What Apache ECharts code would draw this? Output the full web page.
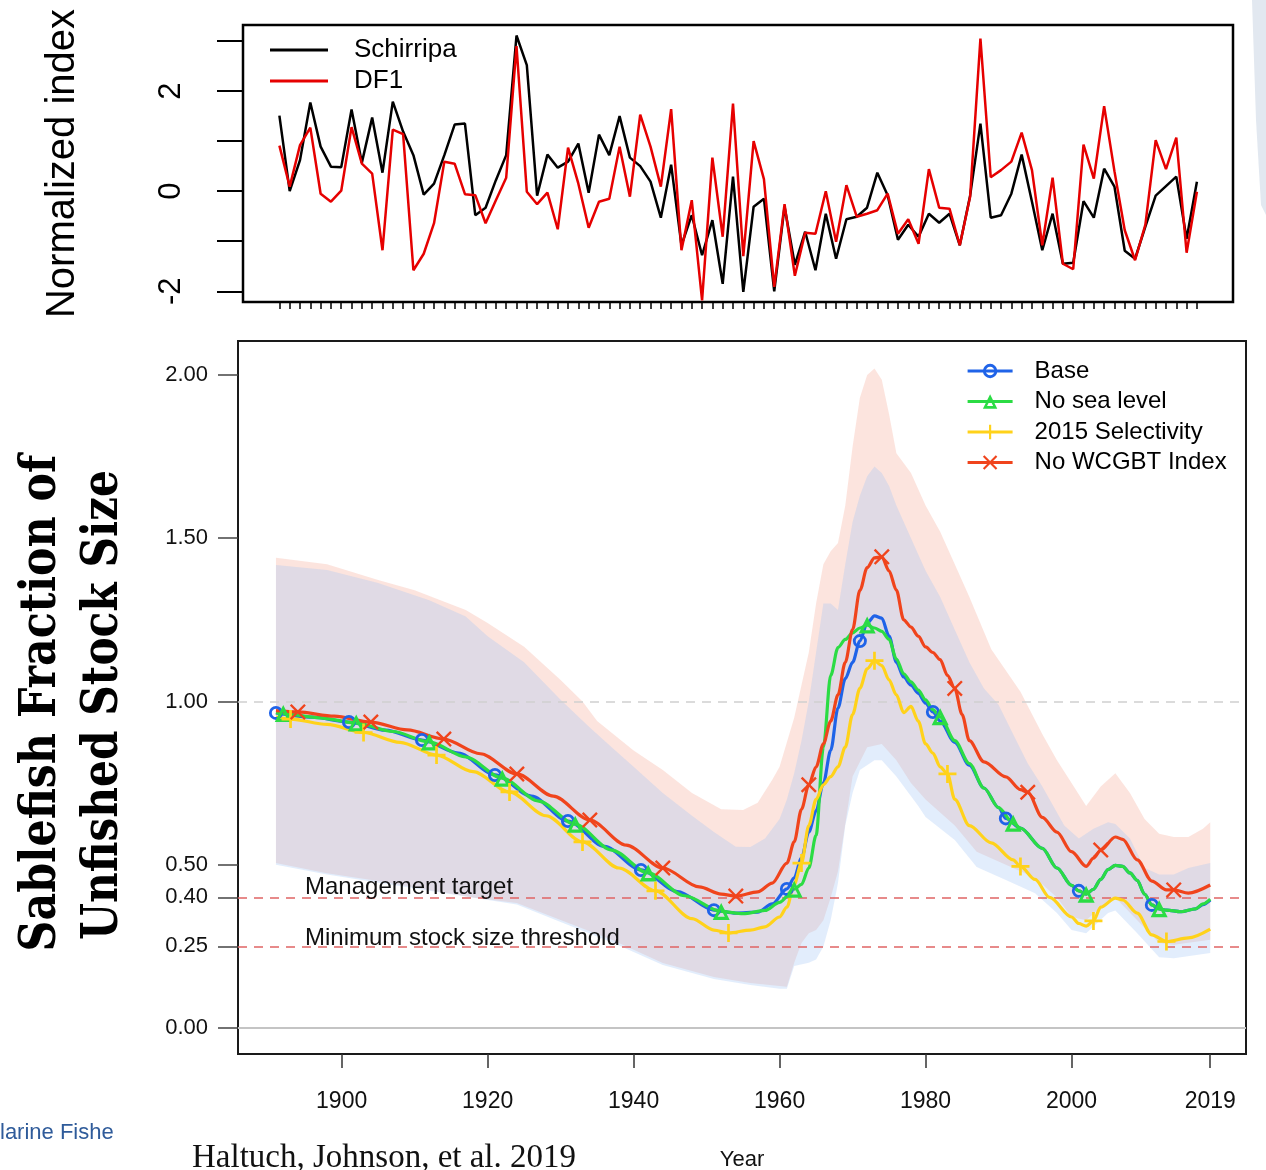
<!DOCTYPE html>
<html>
<head>
<meta charset="utf-8">
<title>Sablefish stock size and normalized indices</title>
<script src="https://cdn.jsdelivr.net/npm/echarts@6/dist/echarts.min.js"></script>
<style>
  html, body { margin: 0; padding: 0; background: #ffffff; }
  #chart { width: 1266px; height: 1170px; }
</style>
</head>
<body>
<div id="chart"></div>
<script>
// ---------- Upper panel: normalized annual indices (one value per year, plotted by position) ----------
const schirripa = [
  1.51, 0.00, 0.62, 1.77, 0.89, 0.49, 0.48, 1.63, 0.57, 1.47, 0.37, 1.79, 1.19, 0.72, -0.07, 0.15, 0.72, 1.33, 1.35, -0.48, -0.33, 0.22, 0.72,
  3.11, 2.52, -0.09, 0.73, 0.47, 0.59, 0.95, -0.03, 1.13, 0.72, 1.50, 0.67, 0.50, 0.19, -0.53, 0.53, -1.08, -0.48, -1.28, -0.58, -1.85, 0.29, -2.01,
  -0.31, -0.15, -2.00, -0.31, -1.47, -0.81, -1.58, -0.45, -1.35, -0.56, -0.51, -0.33, 0.37, -0.08, -0.97, -0.67, -0.91, -0.45, -0.63, -0.45, -1.08, -0.09, 1.35,
  -0.53, -0.48, -0.05, 0.73, -0.21, -1.18, -0.45, -1.45, -1.43, -0.20, -0.53, 0.45, 0.09, -1.19, -1.35, -0.71, -0.09, 0.10, 0.29, -0.95, 0.19
];
const df1 = [
  0.91, 0.09, 0.92, 1.27, -0.05, -0.21, 0.01, 1.28, 0.55, 0.35, -1.18, 1.23, 1.14, -1.58, -1.25, -0.64, 0.59, 0.55, -0.06, -0.08, -0.64, -0.18, 0.27,
  2.90, -0.01, -0.26, -0.03, -0.76, 0.87, 0.15, -0.73, -0.21, -0.15, 0.89, -0.11, 1.53, 0.89, 0.09, 1.64, -1.18, -0.18, -2.18, 0.67, -0.91, 1.75, -1.30,
  1.00, 0.24, -1.91, -0.26, -1.69, -0.83, -0.85, 0.00, -1.01, 0.12, -0.51, -0.45, -0.38, -0.05, -0.85, -0.56, -1.05, 0.44, -0.33, -0.35, -1.08, -0.11, 3.05,
  0.28, 0.42, 0.59, 1.17, 0.42, -1.08, 0.27, -1.45, -1.56, 0.93, 0.25, 1.70, 0.40, -0.78, -1.38, -0.67, 1.02, 0.44, 1.07, -1.23, -0.01
];
const upperYTicks = [-2, -1, 0, 1, 2, 3];
const upperYLabels = [-2, 0, 2];

// ---------- Lower panel: spawning output relative to unfished, by model run ----------
const lowerXTicks = [1900, 1920, 1940, 1960, 1980, 2000, 2019];
const lowerYTicks = [0, 0.25, 0.40, 0.50, 1.00, 1.50, 2.00];
const unfishedLevel = 1.0;
const managementTarget = 0.40;
const minStockThreshold = 0.25;

const baseRun = [
  [1891,0.965],[1896,0.952],[1901,0.937],[1906,0.912],[1911,0.882],[1916,0.842],[1921,0.775],[1926,0.71],
  [1931,0.634],[1936,0.556],[1941,0.484],[1946,0.418],[1951,0.361],[1954,0.352],[1957,0.355],[1959,0.38],
  [1961,0.426],[1962,0.46],[1963,0.52],[1964,0.60],[1965,0.665],[1966,0.75],[1967,0.85],[1968,0.98],
  [1969,1.07],[1970,1.12],[1971,1.185],[1972,1.24],[1973,1.262],[1974,1.255],[1975,1.20],[1976,1.12],
  [1977,1.075],[1978,1.05],[1979,1.025],[1980,0.995],[1981,0.968],[1982,0.94],[1984,0.875],[1986,0.805],
  [1988,0.735],[1990,0.675],[1991,0.642],[1993,0.612],[1996,0.55],[1998,0.49],[2000,0.437],[2001,0.42],
  [2002,0.41],[2003,0.425],[2004,0.455],[2005,0.485],[2006,0.498],[2007,0.495],[2008,0.475],[2009,0.452],
  [2010,0.41],[2011,0.377],[2012,0.365],[2013,0.361],[2015,0.356],[2017,0.365],[2018,0.378],[2019,0.392]
];
const noSeaLevelRun = [
  [1891,0.966],[1892,0.963],[1897,0.95],[1902,0.934],[1907,0.908],[1912,0.876],[1917,0.83],[1922,0.765],
  [1927,0.695],[1932,0.624],[1937,0.545],[1942,0.475],[1947,0.405],[1952,0.357],[1955,0.35],[1958,0.36],
  [1960,0.385],[1962,0.425],[1963,0.44],[1964,0.49],[1965,0.59],[1966,0.86],[1967,1.08],[1968,1.165],
  [1969,1.19],[1970,1.21],[1971,1.225],[1972,1.234],[1973,1.225],[1974,1.215],[1975,1.19],[1976,1.13],
  [1977,1.085],[1978,1.06],[1979,1.035],[1980,1.005],[1981,0.975],[1982,0.953],[1984,0.88],[1986,0.81],
  [1988,0.735],[1990,0.675],[1992,0.627],[1993,0.612],[1996,0.55],[1998,0.49],[2000,0.437],[2001,0.42],
  [2002,0.41],[2003,0.425],[2004,0.455],[2005,0.485],[2006,0.498],[2007,0.495],[2008,0.475],[2009,0.452],
  [2010,0.41],[2011,0.377],[2012,0.365],[2013,0.361],[2015,0.356],[2017,0.365],[2018,0.38],[2019,0.395]
];
const selectivity2015Run = [
  [1891,0.952],[1893,0.946],[1898,0.93],[1903,0.905],[1908,0.875],[1913,0.836],[1918,0.785],[1923,0.723],
  [1928,0.65],[1933,0.57],[1938,0.49],[1943,0.42],[1948,0.335],[1951,0.30],[1953,0.291],[1956,0.30],
  [1958,0.31],[1960,0.34],[1961,0.37],[1962,0.44],[1963,0.505],[1964,0.62],[1965,0.70],[1966,0.745],
  [1967,0.77],[1968,0.80],[1969,0.86],[1970,0.96],[1971,1.04],[1972,1.10],[1973,1.125],[1974,1.11],
  [1975,1.066],[1976,1.02],[1977,0.966],[1978,0.985],[1979,0.94],[1980,0.87],[1981,0.842],[1982,0.80],
  [1983,0.778],[1984,0.70],[1986,0.62],[1989,0.567],[1992,0.515],[1993,0.495],[1995,0.455],[1997,0.40],
  [2000,0.34],[2001,0.32],[2002,0.312],[2003,0.328],[2004,0.37],[2006,0.398],[2007,0.392],[2009,0.352],
  [2011,0.285],[2013,0.265],[2016,0.276],[2019,0.303]
];
const noSurveyIndexRun = [
  [1891,0.972],[1894,0.968],[1899,0.955],[1904,0.937],[1909,0.913],[1914,0.885],[1919,0.84],[1924,0.778],
  [1929,0.71],[1934,0.637],[1939,0.56],[1944,0.49],[1949,0.432],[1952,0.41],[1954,0.404],[1957,0.417],
  [1959,0.444],[1961,0.505],[1962,0.57],[1963,0.67],[1964,0.745],[1965,0.80],[1966,0.87],[1967,0.94],
  [1968,1.02],[1969,1.12],[1970,1.22],[1971,1.34],[1972,1.41],[1973,1.44],[1974,1.443],[1975,1.40],
  [1976,1.341],[1977,1.25],[1978,1.228],[1979,1.20],[1980,1.167],[1981,1.15],[1982,1.128],[1983,1.08],
  [1984,1.04],[1985,0.96],[1986,0.88],[1988,0.815],[1991,0.769],[1993,0.73],[1994,0.722],[1996,0.645],
  [1998,0.60],[2000,0.54],[2002,0.495],[2003,0.52],[2004,0.545],[2006,0.585],[2007,0.578],[2009,0.515],
  [2011,0.45],[2013,0.423],[2014,0.423],[2016,0.413],[2019,0.438]
];

// Uncertainty envelopes (upper and lower bounds)
const noSurveyIndexHi = [
  [1891,1.44],[1898,1.42],[1905,1.372],[1910,1.341],[1917,1.28],[1920,1.24],[1925,1.168],[1930,1.066],
  [1933,1.0],[1935,0.94],[1940,0.85],[1944,0.79],[1948,0.72],[1952,0.67],[1955,0.668],[1957,0.69],
  [1959,0.76],[1960,0.80],[1962,0.95],[1964,1.15],[1965,1.30],[1966,1.42],[1967,1.46],[1968,1.485],
  [1969,1.60],[1970,1.78],[1971,1.93],[1972,2.0],[1973,2.02],[1974,1.985],[1975,1.88],[1976,1.76],
  [1978,1.70],[1980,1.60],[1982,1.52],[1984,1.42],[1986,1.32],[1989,1.16],[1993,1.03],[1996,0.90],
  [1998,0.82],[2000,0.75],[2002,0.68],[2004,0.74],[2006,0.78],[2008,0.72],[2010,0.64],[2012,0.595],
  [2014,0.585],[2016,0.585],[2018,0.61],[2019,0.63]
];
const noSurveyIndexLo = [
  [1891,0.505],[1898,0.474],[1905,0.45],[1912,0.423],[1918,0.40],[1924,0.383],[1930,0.331],[1937,0.27],
  [1944,0.199],[1951,0.156],[1956,0.138],[1961,0.126],[1962,0.20],[1963,0.26],[1964,0.29],[1965,0.30],
  [1966,0.33],[1967,0.40],[1968,0.48],[1970,0.77],[1972,0.86],[1974,0.87],[1976,0.82],[1978,0.75],
  [1980,0.70],[1984,0.62],[1987,0.54],[1991,0.50],[1995,0.46],[1998,0.40],[2000,0.34],[2002,0.33],
  [2005,0.39],[2006,0.40],[2009,0.33],[2012,0.26],[2014,0.255],[2019,0.27]
];
const baseHi = [
  [1891,1.418],[1898,1.403],[1905,1.363],[1912,1.31],[1917,1.26],[1920,1.20],[1925,1.12],[1930,1.005],
  [1934,0.92],[1937,0.86],[1940,0.80],[1944,0.72],[1948,0.65],[1951,0.60],[1954,0.555],[1956,0.554],
  [1958,0.58],[1960,0.64],[1961,0.70],[1962,0.78],[1963,0.88],[1964,1.0],[1965,1.15],[1966,1.30],
  [1967,1.30],[1968,1.28],[1969,1.42],[1970,1.55],[1971,1.63],[1972,1.69],[1973,1.72],[1974,1.70],
  [1975,1.66],[1976,1.60],[1978,1.50],[1980,1.40],[1982,1.32],[1984,1.22],[1986,1.12],[1988,1.04],
  [1990,0.99],[1992,0.90],[1994,0.81],[1996,0.74],[1999,0.62],[2001,0.58],[2003,0.61],[2005,0.63],
  [2006,0.625],[2008,0.58],[2010,0.49],[2012,0.47],[2014,0.47],[2016,0.49],[2019,0.505]
];
const baseLo = [
  [1891,0.50],[1898,0.47],[1912,0.42],[1924,0.378],[1930,0.325],[1937,0.263],[1944,0.193],[1951,0.15],
  [1956,0.132],[1960,0.12],[1961,0.12],[1962,0.19],[1964,0.20],[1965,0.21],[1966,0.25],[1967,0.33],
  [1968,0.444],[1969,0.62],[1970,0.72],[1971,0.79],[1973,0.82],[1974,0.82],[1976,0.77],[1979,0.68],
  [1980,0.646],[1984,0.576],[1987,0.493],[1991,0.453],[1995,0.413],[1998,0.352],[2000,0.30],[2002,0.29],
  [2005,0.352],[2006,0.36],[2009,0.29],[2012,0.217],[2014,0.214],[2019,0.23]
];

// ---------- Styling ----------
const SANS = '"Liberation Sans", Arial, Helvetica, sans-serif';
const SERIF = '"Liberation Serif", "Times New Roman", serif';
const TITLE_FONT = 'bold 50px "DejaVu Serif Condensed", "DejaVu Serif", serif';

const BLUE = '#1f63e8';
const GREEN = '#2bdc44';
const YELLOW = '#ffd21a';
const RED = '#f0441c';

// Open ring, open triangle, plus and cross markers
const SYM_RING = 'path://M0,-10A10,10 0 1,1 0,10A10,10 0 1,1 0,-10Z M0,-6A6,6 0 1,0 0,6A6,6 0 1,0 0,-6Z';
const SYM_TRI = 'path://M0,-10L8.66,5L-8.66,5Z M0,-4.2L-3.64,2.1L3.64,2.1Z';
const SYM_PLUS = 'path://M-1.5,-10H1.5V-1.5H10V1.5H1.5V10H-1.5V1.5H-10V-1.5H-1.5Z';
const SYM_CROSS = 'path://M0,-2.1L7.9,-10L10,-7.9L2.1,0L10,7.9L7.9,10L0,2.1L-7.9,10L-10,7.9L-2.1,0L-10,-7.9L-7.9,-10Z';

// Markers every ten years, each run starting one year later than the previous
function withMarkers(points, firstMarkerYear, step) {
  return points.map(function (p) {
    const onMarker = p[0] >= firstMarkerYear && (p[0] - firstMarkerYear) % step === 0;
    return onMarker ? { value: p } : { value: p, symbol: 'none' };
  });
}

// Filled envelope between an upper and a lower bound, drawn through the axis scales
function envelopeSeries(name, hi, lo, fill) {
  return {
    name: name,
    type: 'custom',
    coordinateSystem: 'cartesian2d',
    xAxisIndex: 1,
    yAxisIndex: 1,
    silent: true,
    clip: true,
    z: 1,
    data: [hi[0]],
    renderItem: function (params, api) {
      const pts = hi.map(function (p) { return api.coord(p); })
        .concat(lo.slice().reverse().map(function (p) { return api.coord(p); }));
      return { type: 'polygon', shape: { points: pts }, style: { fill: fill }, silent: true };
    }
  };
}

function runSeries(name, points, firstMarker, symbol, symbolSize, color) {
  return {
    name: name,
    type: 'line',
    xAxisIndex: 1,
    yAxisIndex: 1,
    data: withMarkers(points, firstMarker, 10),
    symbol: symbol,
    symbolSize: symbolSize,
    showAllSymbol: true,
    smooth: 0.3,
    smoothMonotone: 'x',
    lineStyle: { color: color, width: 3.2 },
    itemStyle: { color: color },
    z: 3
  };
}

function textScale(text, font, targetLength) {
  const ctx = document.createElement('canvas').getContext('2d');
  ctx.font = font;
  return targetLength / ctx.measureText(text).width;
}

const titleLine1 = 'Sablefish Fraction of';
const titleLine2 = 'Unfished Stock Size';
const creditText = 'Haltuch, Johnson, et al. 2019';
const CREDIT_FONT = '34px ' + SERIF;

const upperPositions = schirripa.map(function (_, i) { return i; });

const chart = echarts.init(document.getElementById('chart'));

const baseSeries = runSeries('Base', baseRun, 1891, SYM_RING, 14, BLUE);
baseSeries.markLine = {
  silent: true,
  symbol: ['none', 'none'],
  z: 2,
  label: { show: false },
  data: [
    { yAxis: unfishedLevel, lineStyle: { color: '#cfcfcf', type: [9, 7], width: 1.5 } },
    {
      yAxis: managementTarget,
      lineStyle: { color: '#e06464', type: [9, 7], width: 1.5 },
      label: { show: true, position: 'insideStartTop', formatter: 'Management target', distance: [67, -2],
               fontSize: 24, color: '#111', fontFamily: SANS }
    },
    {
      yAxis: minStockThreshold,
      lineStyle: { color: '#e06464', type: [9, 7], width: 1.5 },
      label: { show: true, position: 'insideStartTop', formatter: 'Minimum stock size threshold', distance: [67, -4],
               fontSize: 24, color: '#111', fontFamily: SANS }
    },
    { yAxis: 0, lineStyle: { color: '#c4c4c4', type: 'solid', width: 2 } }
  ]
};

const option = {
  backgroundColor: '#ffffff',
  animation: false,
  grid: [
    { left: 243, top: 25, width: 990, height: 277, show: true, borderColor: '#000', borderWidth: 2.5,
      backgroundColor: 'transparent', outerBoundsMode: 'none', containLabel: false },
    { left: 238, top: 341, width: 1008, height: 713, show: true, borderColor: '#1a1a1a', borderWidth: 2,
      backgroundColor: 'transparent', outerBoundsMode: 'none', containLabel: false }
  ],
  xAxis: [
    {
      gridIndex: 0, type: 'value', min: -3.53, max: 92.5,
      axisLine: { show: false, onZero: false }, splitLine: { show: false },
      axisTick: { show: true, inside: false, customValues: upperPositions, length: 7, lineStyle: { color: '#000', width: 1.5 } },
      axisLabel: { show: false }
    },
    {
      gridIndex: 1, type: 'value', min: 1885.8, max: 2023.9,
      axisLine: { show: false, onZero: false }, splitLine: { show: false },
      axisTick: { show: true, inside: false, customValues: lowerXTicks, length: 14, lineStyle: { color: '#333', width: 1.5 } },
      axisLabel: { customValues: lowerXTicks, margin: 36, fontSize: 23, color: '#111', fontFamily: SANS,
                   formatter: function (v) { return String(v); } },
      name: 'Year', nameLocation: 'middle', nameGap: 95,
      nameTextStyle: { fontSize: 22, color: '#111', fontFamily: SANS }
    }
  ],
  yAxis: [
    {
      gridIndex: 0, type: 'value', min: -2.214, max: 3.32,
      axisLine: { show: false, onZero: false }, splitLine: { show: false },
      axisTick: { show: true, inside: false, customValues: upperYTicks, length: 26, lineStyle: { color: '#000', width: 2 } },
      axisLabel: { customValues: upperYLabels, rotate: 90, margin: 56, fontSize: 31, color: '#000', fontFamily: SANS,
                   formatter: function (v) { return String(v); } },
      name: 'Normalized index', nameLocation: 'middle', nameGap: 160, nameRotate: 90,
      nameTextStyle: { fontSize: 40, color: '#000', fontFamily: SANS }
    },
    {
      gridIndex: 1, type: 'value', min: -0.0796, max: 2.104,
      axisLine: { show: false, onZero: false }, splitLine: { show: false },
      axisTick: { show: true, inside: false, customValues: lowerYTicks, length: 20, lineStyle: { color: '#444', width: 1.5 } },
      axisLabel: { customValues: lowerYTicks, margin: 30, fontSize: 22, color: '#111', fontFamily: SANS,
                   formatter: function (v) { return v.toFixed(2); } }
    }
  ],
  legend: [
    {
      data: [{ name: 'Schirripa', icon: 'rect' }, { name: 'DF1', icon: 'rect' }],
      orient: 'vertical', left: 265, top: 32, itemWidth: 58, itemHeight: 3, itemGap: 5,
      selectedMode: false,
      textStyle: { fontSize: 26, color: '#000', fontFamily: SANS, padding: [0, 0, 0, 21] }
    },
    {
      data: ['Base', 'No sea level', '2015 Selectivity', 'No WCGBT Index'],
      orient: 'vertical', left: 961, top: 354, itemWidth: 45, itemHeight: 18, itemGap: 6.5,
      selectedMode: false,
      lineStyle: { width: 3.2 },
      textStyle: { fontSize: 24, color: '#000', fontFamily: SANS, padding: [0, 0, 0, 17] }
    }
  ],
  series: [
    {
      name: 'Schirripa', type: 'line', xAxisIndex: 0, yAxisIndex: 0,
      data: schirripa.map(function (v, i) { return [i, v]; }),
      symbol: 'none', lineStyle: { color: '#000', width: 2.5 }, itemStyle: { color: '#000' }, z: 3
    },
    {
      name: 'DF1', type: 'line', xAxisIndex: 0, yAxisIndex: 0,
      data: df1.map(function (v, i) { return [i, v]; }),
      symbol: 'none', lineStyle: { color: '#e60000', width: 2.5 }, itemStyle: { color: '#e60000' }, z: 4
    },
    envelopeSeries('No WCGBT Index interval', noSurveyIndexHi, noSurveyIndexLo, 'rgba(245,165,145,0.30)'),
    envelopeSeries('Base interval', baseHi, baseLo, 'rgba(160,195,245,0.30)'),
    baseSeries,
    runSeries('No sea level', noSeaLevelRun, 1892, SYM_TRI, 17, GREEN),
    runSeries('2015 Selectivity', selectivity2015Run, 1893, SYM_PLUS, 18, YELLOW),
    runSeries('No WCGBT Index', noSurveyIndexRun, 1894, SYM_CROSS, 16, RED)
  ],
  graphic: [
    {
      type: 'text', x: 42, y: 703, rotation: Math.PI / 2,
      scaleX: textScale(titleLine1, TITLE_FONT, 497),
      style: { text: titleLine1, font: TITLE_FONT, fill: '#000', textAlign: 'center', textVerticalAlign: 'middle' }
    },
    {
      type: 'text', x: 104, y: 705, rotation: Math.PI / 2,
      scaleX: textScale(titleLine2, TITLE_FONT, 470),
      style: { text: titleLine2, font: TITLE_FONT, fill: '#000', textAlign: 'center', textVerticalAlign: 'middle' }
    },
    {
      type: 'text', x: 192, y: 1158,
      scaleX: textScale(creditText, CREDIT_FONT, 384),
      style: { text: creditText, font: CREDIT_FONT, fill: '#111', textAlign: 'left', textVerticalAlign: 'middle' }
    },
    {
      type: 'text', x: 0, y: 1133,
      style: { text: 'larine Fishe', font: '22px ' + SANS, fill: '#2f5b9a', textAlign: 'left', textVerticalAlign: 'middle' }
    },
    {
      type: 'polygon', silent: true,
      shape: { points: [[1252, 0], [1266, 0], [1266, 215], [1261, 205], [1256, 120]] },
      style: { fill: '#e2e8f0' }
    }
  ]
};

chart.setOption(option);
</script>
</body>
</html>
